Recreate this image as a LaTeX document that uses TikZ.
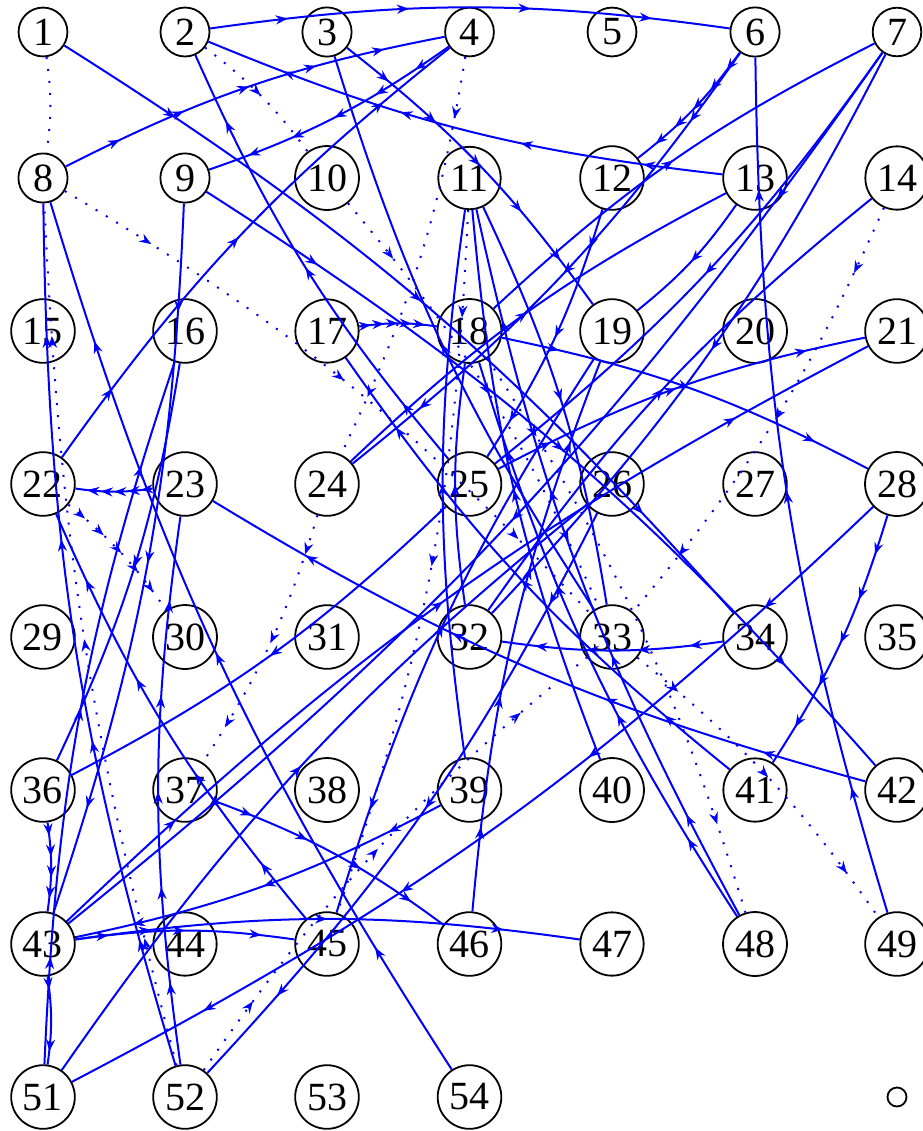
\documentclass[tikz,border=0pt]{standalone}
\usepackage{fontspec}
\setmainfont{Liberation Serif}
\usetikzlibrary{arrows.meta,decorations.markings}

\begin{document}
\begin{tikzpicture}[x=0.5pt,y=-0.5pt,>=Stealth]
  \tikzstyle{vertex}=[draw,circle,inner sep=2.8pt,line width=0.9pt,font=\fontsize{20}{24}\selectfont]
  \tikzstyle{edge}=[blue,line width=1pt]
  \tikzstyle{dots}=[edge,dash pattern=on 1pt off 5pt]
  \tikzstyle{arr}=[postaction={decorate},decoration={markings,mark=at position 0.5 with {\arrow{Stealth[length=6pt,width=4.5pt]}}}]
  \tikzset{arrs/.style={postaction={decorate},decoration={markings,mark=between positions 0.15 and 0.85 step #1 with {\arrow{Stealth[length=6pt,width=4.5pt]}}}}}
  \useasboundingbox (0,0) rectangle (922,1131);
  % grid of vertices, seven per row
  \foreach \y [count=\r from 0] in {32,178,331,484,637,790,944} {
    \foreach \x [count=\c from 1] in {43,185,327,469.5,612,755,897} {
      \pgfmathtruncatemacro{\k}{7*\r+\c}
      \node[vertex] (n\k) at (\x,\y) {\k};
    }
  }
  \foreach \k/\x in {51/43,52/185,53/327,54/469.5}
    \node[vertex] (n\k) at (\x,1097) {\k};
  \node[draw,circle,minimum size=9.5pt,inner sep=0pt,line width=0.9pt] (end) at (897,1097) {};
  % solid edges
  \foreach \a/\b in {8/4,4/9,3/19,6/12,28/41,52/23,23/22,17/18}
    \draw[edge,arrs=0.174] (n\a) to[bend left=8] (n\b);
  \foreach \a/\b in {13/2,2/6,52/8,45/22,34/32,37/46,42/23,48/18,48/11,46/19,36/43,28/51}
    \draw[edge,arrs=0.233] (n\a) to[bend left=8] (n\b);
  \foreach \a/\b in {22/4,1/34,6/24,49/6,9/42,25/2,39/43,43/47,43/45,51/16,26/52,41/17,18/28,25/21,7/43,43/21,12/25,54/8,9/43}
    \draw[edge,arrs=0.349] (n\a) to[bend left=8] (n\b);
  \foreach \a/\b in {43/51}
    \draw[edge,arrs=0.699] (n\a) to[bend left=8] (n\b);
  \foreach \a/\b in {33/3,18/7,24/13,16/36,51/26,25/36,45/19,39/11,40/11,11/33,13/19,7/25,7/32,32/14,32/18}
    \draw[edge,arr] (n\a) to[bend left=8] (n\b);
  % dotted edges
  \draw[dots] (n1) to[bend left=8] (n8);
  \foreach \a/\b in {2/10}
    \draw[dots,arr] (n\a) to[bend left=8] (n\b);
  \foreach \a/\b in {4/24,18/48}
    \draw[dots,arrs=0.699] (n\a) to[bend left=8] (n\b);
  \foreach \a/\b in {24/37,10/33,8/33,14/33,52/33,33/49,11/45}
    \draw[dots,arrs=0.349] (n\a) to[bend left=8] (n\b);
  \draw[dots,arrs=0.174] (n22) to[bend left=8] (n30);
  \draw[dots,arrs=0.349] (n52) to[bend left=6] (n8);
\end{tikzpicture}
\end{document}
